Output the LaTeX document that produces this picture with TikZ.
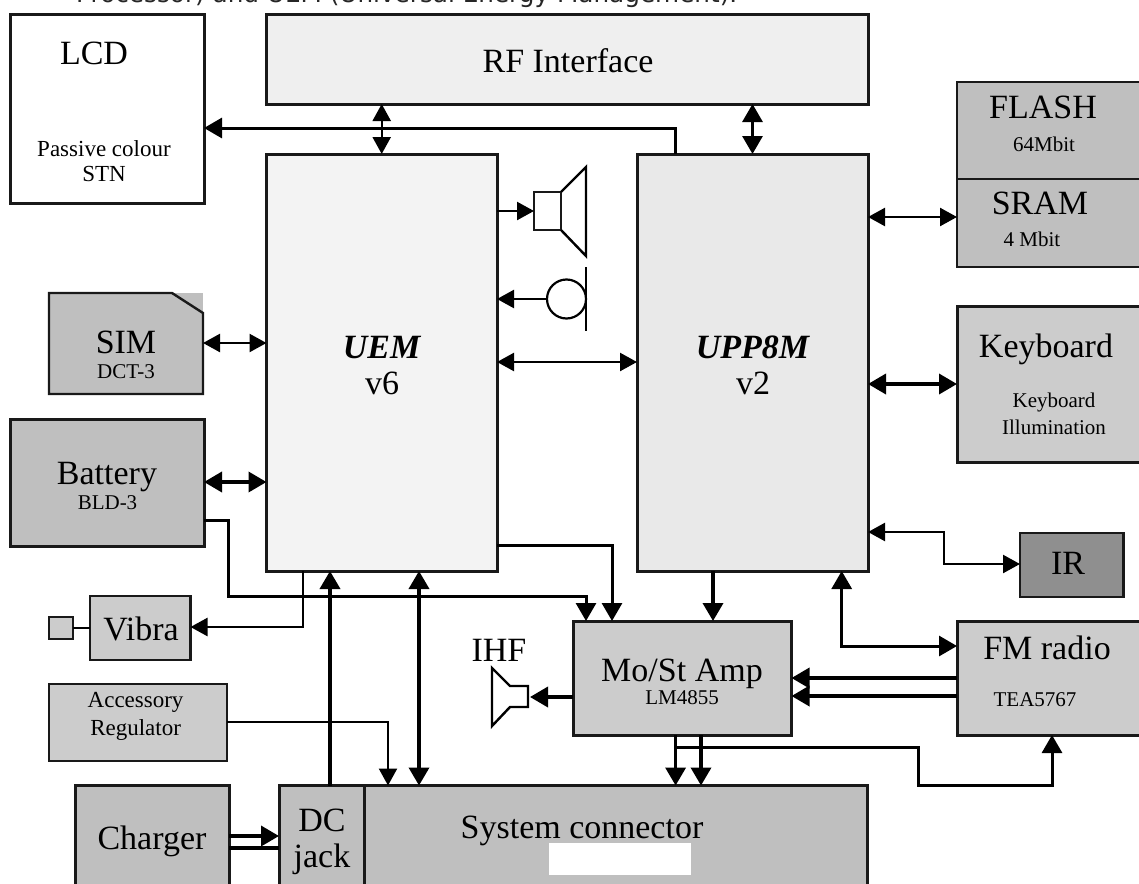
\documentclass[tikz,border=0pt]{standalone}
\usepackage{fontspec}
\setmainfont{Liberation Serif}
\newfontfamily\topfont{DejaVu Sans}
\usetikzlibrary{arrows.meta,calc}
\newcommand{\bx}[6]{\node[#2,minimum width={(#5-#3)*1pt},minimum height={(#6-#4)*1pt}] (#1) at ({(#3+#5)/2},{(#4+#6)/2}) {};}
\newcommand{\lab}[5]{\node[#2] (#1) at (#3,#4) {#5};}
\tikzset{
 bigtip/.tip={Triangle[length=18pt,width=20pt]},
 midtip/.tip={Triangle[length=17pt,width=18pt]},
 box/.style={draw=black!90,line width=3pt,inner sep=0pt,outer sep=0pt,rectangle},
 thinbox/.style={box,line width=2.4pt},
 big/.style={font=\fontsize{34}{34}\selectfont,inner sep=0pt,text height=22.5pt,text depth=0pt},
 small/.style={font=\fontsize{21}{21}\selectfont,inner sep=0pt,text height=14pt,text depth=0pt},
 med/.style={font=\fontsize{23}{23}\selectfont,inner sep=0pt,text height=15pt,text depth=0pt},
 wire/.style={draw=black,line width=2.4pt,line join=miter},
 bus/.style={draw=black,line width=3.6pt,line join=miter},
 midbus/.style={draw=black,line width=3pt,line join=miter},
}
\definecolor{grA}{HTML}{BFBFBF}
\definecolor{grB}{HTML}{CCCCCC}
\definecolor{grC}{HTML}{EFEFEF}
\definecolor{grD}{HTML}{F3F3F3}
\definecolor{grE}{HTML}{E9E9E9}
\definecolor{grF}{HTML}{8F8F8F}
\begin{document}
\begin{tikzpicture}[x=1pt,y=-1pt]
\useasboundingbox (0,0) rectangle (1139,883);
\clip (0,0) rectangle (1139,883);
\fill[white] (0,0) rectangle (1139,883);
\node[anchor=base west,inner sep=0pt,font=\topfont\fontsize{24.7}{24.7}\selectfont,text=black!85] (toptext) at (76,3) {Processor) and UEM (Universal Energy Management).};
% boxes
\bx{lcd}{box,fill=white}{10}{14.5}{204}{203}
\bx{rf}{box,fill=grC}{266.5}{15}{868}{104}
\bx{uem}{box,fill=grD}{266.5}{154}{497}{571}
\bx{upp}{box,fill=grE}{637}{154}{868}{571}
\bx{flash}{thinbox,fill=grA}{957}{82}{1150}{179}
\bx{sram}{thinbox,fill=grA}{957}{179}{1150}{267}
\bx{kbd}{box,fill=grB}{957}{306}{1150}{462}
\bx{ir}{thinbox,fill=grF}{1020}{533}{1123.5}{597}
\bx{fm}{box,fill=grB}{957}{621}{1150}{735}
\bx{amp}{box,fill=grB}{573}{621}{791.5}{735}
\bx{batt}{box,fill=grA}{10}{419}{204}{546}
\bx{vibra}{thinbox,fill=grB}{90}{596}{190.5}{660}
\bx{vsq}{thinbox,fill=grB}{49}{617}{73}{639}
\bx{acc}{thinbox,fill=grB}{49}{684}{227}{761}
\bx{chg}{box,fill=grA}{75}{785.5}{229}{900}
\bx{dc}{box,fill=grA}{279}{785.5}{364.5}{900}
\bx{sys}{box,fill=grA}{364.5}{785.5}{867.5}{900}
\fill[white] (549,843) rectangle (691,875);
% SIM card
\fill[grA] (172,293) rectangle (203,313);
\draw[thinbox,fill=grA] (49,293) -- (172,293) -- (203,313) -- (203,394) -- (49,394) -- cycle;
\node[inner sep=0pt,outer sep=0pt,minimum width=154pt,minimum height=101pt] (sim) at (126,343.5) {};
% speaker
\bx{spk}{thinbox,fill=white}{534}{192}{561}{230}
\draw[line width=2.4pt,line join=miter] (spk.north east) -- (586,167) -- (586,256) -- (spk.south east);
% microphone
\node[draw=black,line width=2.2pt,circle,minimum size=39pt,inner sep=0pt,outer sep=0pt] (mic) at (566.5,299) {};
\coordinate (micbar) at (586,267);
\draw[line width=2.2pt] (micbar) -- (586,331);
% IHF speaker
\coordinate (ihf) at (530,697);
\draw[line width=2.4pt,line join=miter,fill=white] (492,668) -- (510,686) -- (528,686) -- (528,707) -- (510,707) -- (492,726) -- cycle;
% connectors
\draw[wire,midtip-midtip] (rf.south -| 381.7,0) -- (uem.north -| 381.7,0);
\draw[wire,line width=3pt,bigtip-bigtip] (rf.south -| upp.north) -- (upp.north);
\draw[midbus,-bigtip] (upp.north -| 675.5,0) -- (675.5,128) -- (lcd.east |- 675.5,128);
\draw[wire,-midtip] (uem.east |- spk.west) -- (spk.west);
\draw[wire,-midtip] (mic.west) -- (uem.east |- mic.west);
\draw[wire,midtip-midtip] (uem.east |- 0,362) -- (upp.west |- 0,362);
\draw[wire,midtip-midtip] (sim.east |- 0,343) -- (uem.west |- 0,343);
\draw[bus,bigtip-bigtip] (batt.east |- 0,482) -- (uem.west |- 0,482);
\draw[wire,midtip-midtip] (upp.east |- 0,217) -- (sram.west |- 0,217);
\draw[bus,bigtip-bigtip] (upp.east |- 0,384) -- (kbd.west |- 0,384);
\draw[wire,midtip-midtip] (upp.east |- 0,532) -- (944,532) -- (944,564) -- (ir.west |- 0,564);
\draw[midbus,bigtip-bigtip] (upp.south -| 841.7,0) -- (841.7,646) -- (fm.west |- 0,646);
\draw[bus,-bigtip] (upp.south -| 713,0) -- (amp.north -| 713,0);
\draw[bus,-bigtip] (fm.west |- 0,678) -- (amp.east |- 0,678);
\draw[bus,-bigtip] (fm.west |- 0,696) -- (amp.east |- 0,696);
\draw[midbus,-bigtip] (batt.east |- 0,520) -- (228.5,520) -- (228.5,596) -- (586,596) -- (amp.north -| 586,0);
\draw[midbus,-bigtip] (uem.east |- 0,545) -- (612,545) -- (amp.north -| 612,0);
\draw[wire,-midtip] (uem.south -| 303,0) -- (303,627) -- (vibra.east |- 0,627);
\draw[wire] (vsq.east) -- (vibra.west |- vsq.east);
\draw[bus,-bigtip] (dc.north -| 330,0) -- (uem.south -| 330,0);
\draw[bus,bigtip-bigtip] (uem.south -| 419,0) -- (sys.north -| 419,0);
\draw[wire,-midtip] (acc.east |- 0,722) -- (388,722) -- (sys.north -| 388,0);
\draw[bus,-bigtip] (chg.east |- 0,836) -- (dc.west |- 0,836);
\draw[bus] (chg.east |- 0,848) -- (dc.west |- 0,848);
\draw[bus,-bigtip] (amp.west |- 0,697) -- (ihf);
\draw[bus,-bigtip] (amp.south -| 675.6,0) -- (sys.north -| 675.6,0);
\draw[bus,-bigtip] (amp.south -| 701,0) -- (sys.north -| 701,0);
\draw[midbus,-bigtip] (675.6,747) -- (918,747) -- (918,785) -- (1052,785) -- (fm.south -| 1052,0);
% labels
\lab{tlcd}{big}{94}{53}{LCD}
\lab{tpass}{med}{104}{149}{Passive colour}
\lab{tstn}{med}{104}{174}{STN}
\lab{trf}{big}{568}{61}{RF Interface}
\lab{tuem}{big}{382}{347}{\textbf{\textit{UEM}}}
\lab{tv6}{big}{382}{383}{v6}
\lab{tupp}{big}{753}{347}{\textbf{\textit{UPP8M}}}
\lab{tv2}{big}{753}{383}{v2}
\lab{tsim}{big}{126}{342}{SIM}
\lab{tdct}{small}{126}{371}{DCT-3}
\lab{tbat}{big}{107}{473}{Battery}
\lab{tbld}{small}{107.5}{502}{BLD-3}
\lab{tvib}{big}{141}{629}{Vibra}
\lab{tacc}{med}{135.6}{700}{Accessory}
\lab{treg}{med}{135.6}{728}{Regulator}
\lab{tchg}{big}{152}{838}{Charger}
\lab{tdc}{big}{322}{820}{DC}
\lab{tjack}{big}{322}{856}{jack}
\lab{tsys}{big}{582}{827}{System connector}
\lab{tihf}{big}{499}{650}{IHF}
\lab{tamp}{big}{682}{670}{Mo/St Amp}
\lab{tlm}{small}{682}{697}{LM4855}
\lab{tfm}{big}{1047}{648}{FM radio}
\lab{ttea}{small}{1035}{699}{TEA5767}
\lab{tir}{big}{1068}{563}{IR}
\lab{tfl}{big}{1043}{107}{FLASH}
\lab{t64}{small}{1044}{144}{64Mbit}
\lab{tsr}{big}{1040}{203}{SRAM}
\lab{t4}{small}{1032}{239}{4 Mbit}
\lab{tkb}{big}{1046}{346}{Keyboard}
\lab{tkb2}{small}{1054}{400}{Keyboard}
\lab{till}{small}{1054}{427}{Illumination}
\end{tikzpicture}
\end{document}
